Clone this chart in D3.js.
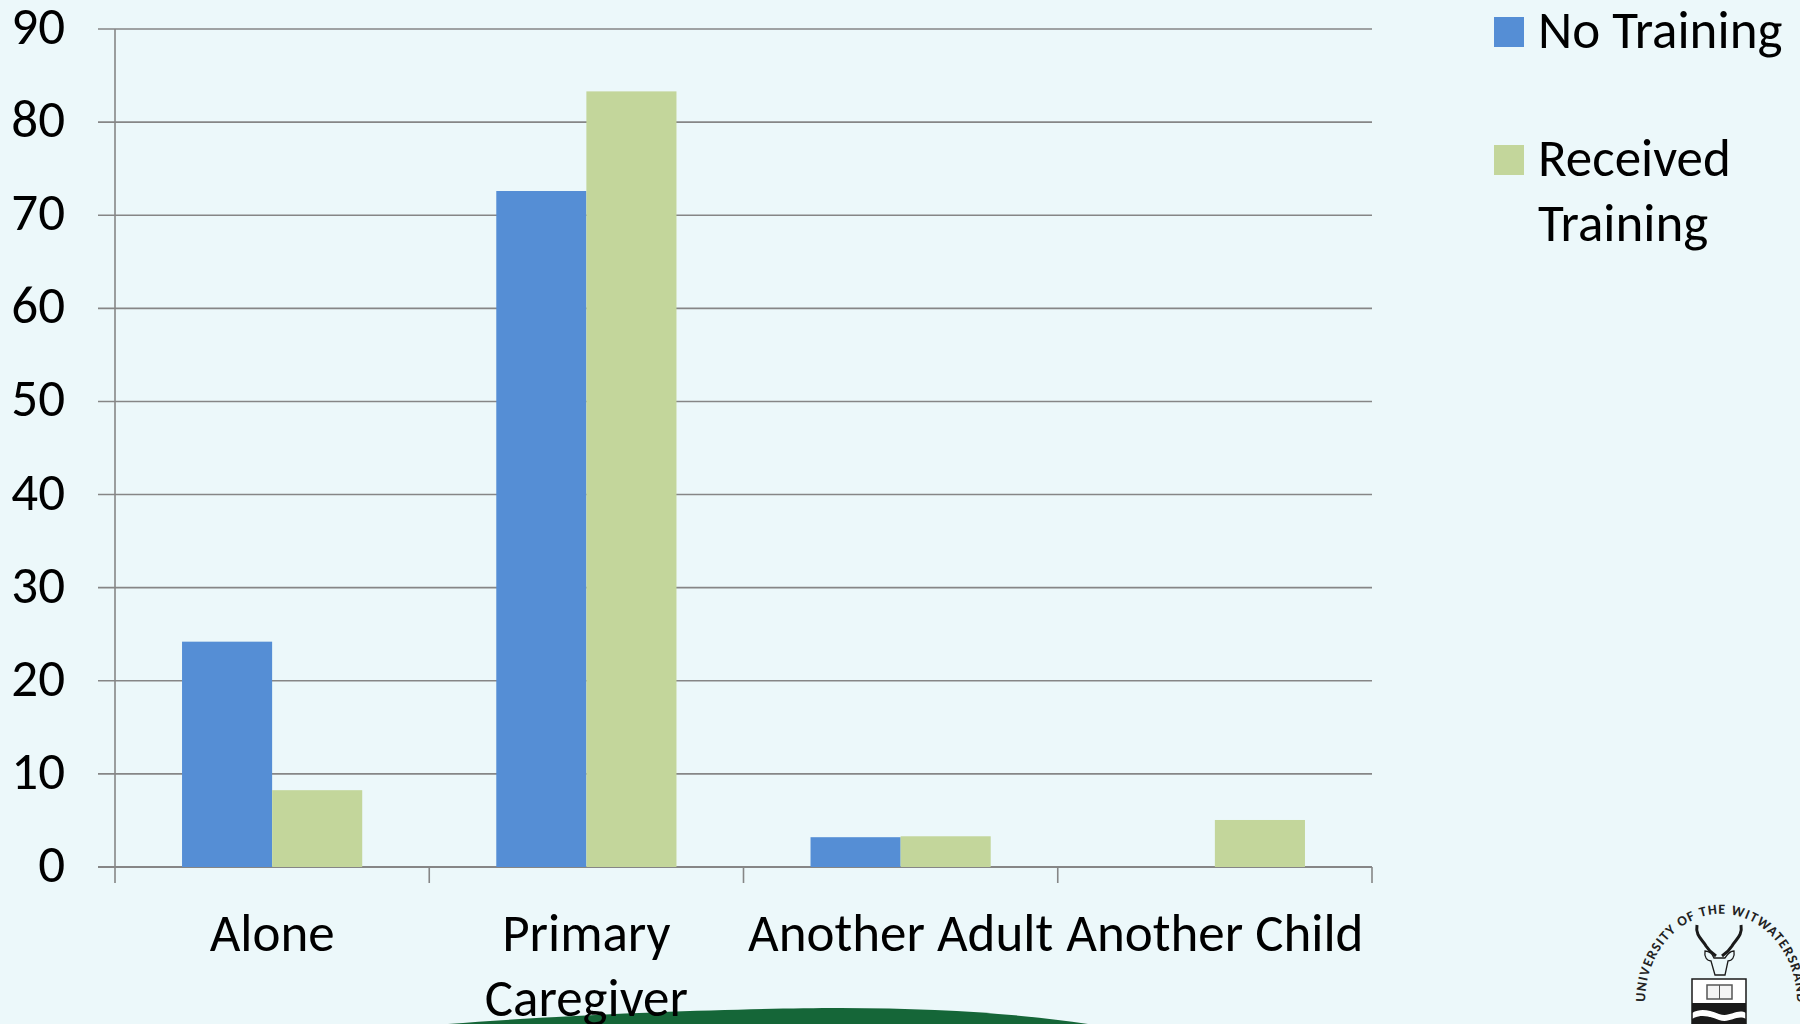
<!DOCTYPE html>
<html><head><meta charset="utf-8">
<script src="https://cdn.jsdelivr.net/npm/d3@7/dist/d3.min.js"></script>
<style>html,body{margin:0;padding:0;background:#ECF8FA;overflow:hidden}svg{display:block}text{font-family:Carlito,Lato,"Open Sans",sans-serif;fill:#000}</style>
</head><body><svg id="c" width="1800" height="1024"></svg>
<script>
const categories=[["Alone"],["Primary","Caregiver"],["Another Adult"],["Another Child"]];
const seriesNames=[["No Training"],["Received","Training"]];
const noTraining=[24.2,72.6,3.2,null];
const receivedTraining=[8.25,83.3,3.3,5.05];
const yTicks=[0,10,20,30,40,50,60,70,80,90];
const colors=["#558ED5","#C3D69B"];

const svg=d3.select("#c");
const L=115,R=1372,T=29,B=867;
const fs=53;
const y=d3.scaleLinear().domain([0,90]).range([B,T]);
const x=d3.scaleBand().domain(d3.range(categories.length)).range([L,R]);
const xs=d3.scaleBand().domain([0,1]).range([0,x.bandwidth()]).paddingInner(0).paddingOuter(0.744);
const grey="#868686";

svg.append("path").attr("d","M448,1024 C575,1014 745,1008 840,1008 C940,1008 1020,1014 1088,1024 Z").attr("fill","#156638");

svg.append("g").selectAll("line").data(yTicks).join("line")
 .attr("x1",98).attr("x2",R).attr("y1",d=>y(d)).attr("y2",d=>y(d))
 .attr("stroke",grey).attr("stroke-width",d=>d===0?2:1.6);
svg.append("line").attr("x1",L).attr("x2",L).attr("y1",T).attr("y2",883).attr("stroke",grey).attr("stroke-width",1.6);
svg.append("g").selectAll("line").data(d3.range(1,categories.length+1)).join("line")
 .attr("x1",d=>L+d*x.step()).attr("x2",d=>L+d*x.step()).attr("y1",B).attr("y2",883)
 .attr("stroke",grey).attr("stroke-width",1.6);

[noTraining,receivedTraining].forEach((s,si)=>{
 svg.append("g").selectAll("rect").data(s.map((v,i)=>({v,i})).filter(d=>d.v!=null)).join("rect")
  .attr("x",d=>x(d.i)+xs(si)).attr("width",xs.bandwidth())
  .attr("y",d=>y(d.v)).attr("height",d=>B-y(d.v)).attr("fill",colors[si]);
});

svg.append("g").selectAll("text").data(yTicks).join("text")
 .attr("x",65).attr("y",d=>y(d)+15).attr("text-anchor","end").attr("font-size",fs).text(d=>d);

categories.forEach((lines,i)=>{
 lines.forEach((t,j)=>{
  svg.append("text").attr("x",x(i)+x.bandwidth()/2).attr("y",951+j*65)
   .attr("text-anchor","middle").attr("font-size",fs).text(t);
 });
});

const legY=[17,145];
const legBase=[[48],[176,241]];
seriesNames.forEach((lines,i)=>{
 svg.append("rect").attr("x",1494).attr("y",legY[i]).attr("width",30).attr("height",30).attr("fill",colors[i]);
 lines.forEach((t,j)=>svg.append("text").attr("x",1538).attr("y",legBase[i][j]).attr("font-size",fs).text(t));
});

const logo=svg.append("g");
const defs=svg.append("defs");
defs.append("path").attr("id","arc").attr("d","M1645,1002 A75,87 0 1 1 1797,1002");
logo.append("text").attr("font-size",14).attr("font-weight",700).attr("style","fill:#222")
 .append("textPath").attr("href","#arc").attr("textLength",258).attr("lengthAdjust","spacing").text("UNIVERSITY OF THE WITWATERSRAND");
const ink="#1a1a1a";
logo.append("path").attr("d","M1697,925 C1695,936 1703,940 1706,946 C1709,951 1712,953 1716,956").attr("fill","none").attr("stroke",ink).attr("stroke-width",3);
logo.append("path").attr("d","M1741,925 C1743,936 1735,940 1732,946 C1729,951 1726,953 1722,956").attr("fill","none").attr("stroke",ink).attr("stroke-width",3);
logo.append("path").attr("d","M1705,951 C1710,951 1713,955 1714,958 L1725,958 C1727,955 1729,951 1734,951 C1735,957 1732,961 1728,961 L1725,975 L1715,975 L1711,961 C1707,961 1704,957 1705,951 Z").attr("fill","#ECF8FA").attr("stroke",ink).attr("stroke-width",1.3);
logo.append("path").attr("d","M1692,979 H1746 V1024 H1692 Z").attr("fill","#fff").attr("stroke",ink).attr("stroke-width",1.5);
logo.append("rect").attr("x",1707).attr("y",985).attr("width",25).attr("height",14).attr("fill","#f4f4f4").attr("stroke","#555").attr("stroke-width",1.5);
logo.append("line").attr("x1",1719.5).attr("x2",1719.5).attr("y1",985).attr("y2",999).attr("stroke","#555");
logo.append("path").attr("d","M1692,1003 H1746 V1013 C1737,1008 1730,1018 1719,1014 C1708,1010 1701,1008 1692,1013 Z").attr("fill",ink);
logo.append("path").attr("d","M1692,1019 C1701,1014 1708,1016 1719,1020 C1730,1024 1737,1014 1746,1019 V1024 H1692 Z").attr("fill",ink);
</script></body></html>
